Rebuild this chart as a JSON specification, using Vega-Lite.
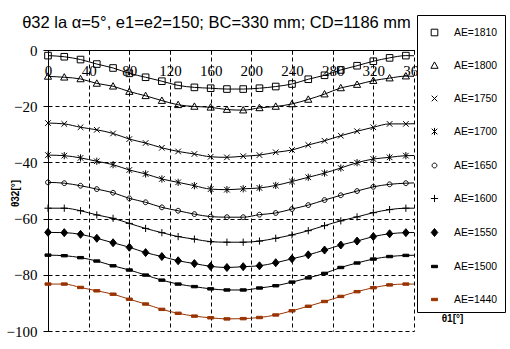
{
"$schema": "https://vega.github.io/schema/vega-lite/v6.json",
"width": 366, "height": 281,
"autosize": "none",
"padding": {"left": 48, "top": 50, "right": 96, "bottom": 18},
"background": "white",
"config": {"view": {"stroke": null}, "font": "Liberation Sans"},
"title": {"text": "θ32 la α=5°, e1=e2=150; BC=330 mm; CD=1186 mm", "fontSize": 16.5, "fontWeight": "normal", "font": "Liberation Sans", "color": "black", "anchor": "middle", "frame": "group", "dx": -14.5, "dy": 21},
"data": {"values": [
{"s":"AE=1810","x":0,"y":-2.0},{"s":"AE=1810","x":16,"y":-2.4},{"s":"AE=1810","x":32,"y":-3.4},{"s":"AE=1810","x":48,"y":-5.0},{"s":"AE=1810","x":64,"y":-6.4},{"s":"AE=1810","x":80,"y":-8.3},{"s":"AE=1810","x":96,"y":-9.7},{"s":"AE=1810","x":112,"y":-11.1},{"s":"AE=1810","x":128,"y":-12.6},{"s":"AE=1810","x":144,"y":-13.3},{"s":"AE=1810","x":160,"y":-13.6},{"s":"AE=1810","x":176,"y":-13.9},{"s":"AE=1810","x":192,"y":-13.9},{"s":"AE=1810","x":208,"y":-13.6},{"s":"AE=1810","x":224,"y":-13.0},{"s":"AE=1810","x":240,"y":-12.1},{"s":"AE=1810","x":256,"y":-10.4},{"s":"AE=1810","x":272,"y":-9.0},{"s":"AE=1810","x":288,"y":-7.1},{"s":"AE=1810","x":304,"y":-5.6},{"s":"AE=1810","x":320,"y":-4.0},{"s":"AE=1810","x":336,"y":-2.8},{"s":"AE=1810","x":352,"y":-2.0},{"s":"AE=1810","x":368,"y":-2.1},
{"s":"AE=1800","x":0,"y":-9.4},{"s":"AE=1800","x":16,"y":-9.7},{"s":"AE=1800","x":32,"y":-10.3},{"s":"AE=1800","x":48,"y":-11.9},{"s":"AE=1800","x":64,"y":-12.9},{"s":"AE=1800","x":80,"y":-14.8},{"s":"AE=1800","x":96,"y":-16.3},{"s":"AE=1800","x":112,"y":-18.0},{"s":"AE=1800","x":128,"y":-19.5},{"s":"AE=1800","x":144,"y":-20.1},{"s":"AE=1800","x":160,"y":-20.4},{"s":"AE=1800","x":176,"y":-21.2},{"s":"AE=1800","x":192,"y":-21.4},{"s":"AE=1800","x":208,"y":-20.6},{"s":"AE=1800","x":224,"y":-20.1},{"s":"AE=1800","x":240,"y":-19.2},{"s":"AE=1800","x":256,"y":-17.6},{"s":"AE=1800","x":272,"y":-15.7},{"s":"AE=1800","x":288,"y":-13.5},{"s":"AE=1800","x":304,"y":-12.3},{"s":"AE=1800","x":320,"y":-10.9},{"s":"AE=1800","x":336,"y":-10.0},{"s":"AE=1800","x":352,"y":-9.3},{"s":"AE=1800","x":368,"y":-9.5},
{"s":"AE=1750","x":0,"y":-26.0},{"s":"AE=1750","x":16,"y":-26.3},{"s":"AE=1750","x":32,"y":-27.5},{"s":"AE=1750","x":48,"y":-28.4},{"s":"AE=1750","x":64,"y":-29.7},{"s":"AE=1750","x":80,"y":-31.7},{"s":"AE=1750","x":96,"y":-33.1},{"s":"AE=1750","x":112,"y":-34.8},{"s":"AE=1750","x":128,"y":-36.1},{"s":"AE=1750","x":144,"y":-37.0},{"s":"AE=1750","x":160,"y":-38.0},{"s":"AE=1750","x":176,"y":-38.2},{"s":"AE=1750","x":192,"y":-37.8},{"s":"AE=1750","x":208,"y":-37.4},{"s":"AE=1750","x":224,"y":-36.4},{"s":"AE=1750","x":240,"y":-35.6},{"s":"AE=1750","x":256,"y":-33.8},{"s":"AE=1750","x":272,"y":-32.3},{"s":"AE=1750","x":288,"y":-30.5},{"s":"AE=1750","x":304,"y":-28.9},{"s":"AE=1750","x":320,"y":-27.5},{"s":"AE=1750","x":336,"y":-26.3},{"s":"AE=1750","x":352,"y":-26.3},{"s":"AE=1750","x":368,"y":-26.1},
{"s":"AE=1700","x":0,"y":-37.4},{"s":"AE=1700","x":16,"y":-37.6},{"s":"AE=1700","x":32,"y":-38.4},{"s":"AE=1700","x":48,"y":-39.6},{"s":"AE=1700","x":64,"y":-40.8},{"s":"AE=1700","x":80,"y":-42.7},{"s":"AE=1700","x":96,"y":-44.1},{"s":"AE=1700","x":112,"y":-45.9},{"s":"AE=1700","x":128,"y":-47.1},{"s":"AE=1700","x":144,"y":-48.3},{"s":"AE=1700","x":160,"y":-49.5},{"s":"AE=1700","x":176,"y":-49.7},{"s":"AE=1700","x":192,"y":-49.4},{"s":"AE=1700","x":208,"y":-49.1},{"s":"AE=1700","x":224,"y":-48.2},{"s":"AE=1700","x":240,"y":-46.8},{"s":"AE=1700","x":256,"y":-45.3},{"s":"AE=1700","x":272,"y":-43.8},{"s":"AE=1700","x":288,"y":-42.0},{"s":"AE=1700","x":304,"y":-40.1},{"s":"AE=1700","x":320,"y":-38.8},{"s":"AE=1700","x":336,"y":-38.2},{"s":"AE=1700","x":352,"y":-37.6},{"s":"AE=1700","x":368,"y":-37.5},
{"s":"AE=1650","x":0,"y":-47.1},{"s":"AE=1650","x":16,"y":-47.4},{"s":"AE=1650","x":32,"y":-48.3},{"s":"AE=1650","x":48,"y":-49.5},{"s":"AE=1650","x":64,"y":-50.8},{"s":"AE=1650","x":80,"y":-52.8},{"s":"AE=1650","x":96,"y":-54.2},{"s":"AE=1650","x":112,"y":-56.0},{"s":"AE=1650","x":128,"y":-57.2},{"s":"AE=1650","x":144,"y":-58.4},{"s":"AE=1650","x":160,"y":-59.3},{"s":"AE=1650","x":176,"y":-59.5},{"s":"AE=1650","x":192,"y":-59.5},{"s":"AE=1650","x":208,"y":-58.6},{"s":"AE=1650","x":224,"y":-58.0},{"s":"AE=1650","x":240,"y":-56.6},{"s":"AE=1650","x":256,"y":-55.2},{"s":"AE=1650","x":272,"y":-53.4},{"s":"AE=1650","x":288,"y":-51.7},{"s":"AE=1650","x":304,"y":-50.2},{"s":"AE=1650","x":320,"y":-48.7},{"s":"AE=1650","x":336,"y":-47.8},{"s":"AE=1650","x":352,"y":-47.4},{"s":"AE=1650","x":368,"y":-47.2},
{"s":"AE=1600","x":0,"y":-56.3},{"s":"AE=1600","x":16,"y":-56.3},{"s":"AE=1600","x":32,"y":-57.2},{"s":"AE=1600","x":48,"y":-58.7},{"s":"AE=1600","x":64,"y":-59.9},{"s":"AE=1600","x":80,"y":-61.7},{"s":"AE=1600","x":96,"y":-63.5},{"s":"AE=1600","x":112,"y":-65.0},{"s":"AE=1600","x":128,"y":-66.4},{"s":"AE=1600","x":144,"y":-67.3},{"s":"AE=1600","x":160,"y":-68.2},{"s":"AE=1600","x":176,"y":-68.4},{"s":"AE=1600","x":192,"y":-68.4},{"s":"AE=1600","x":208,"y":-68.0},{"s":"AE=1600","x":224,"y":-67.0},{"s":"AE=1600","x":240,"y":-65.8},{"s":"AE=1600","x":256,"y":-64.3},{"s":"AE=1600","x":272,"y":-62.5},{"s":"AE=1600","x":288,"y":-60.8},{"s":"AE=1600","x":304,"y":-59.4},{"s":"AE=1600","x":320,"y":-57.9},{"s":"AE=1600","x":336,"y":-56.8},{"s":"AE=1600","x":352,"y":-56.3},{"s":"AE=1600","x":368,"y":-56.3},
{"s":"AE=1550","x":0,"y":-64.9},{"s":"AE=1550","x":16,"y":-65.0},{"s":"AE=1550","x":32,"y":-65.6},{"s":"AE=1550","x":48,"y":-67.0},{"s":"AE=1550","x":64,"y":-68.6},{"s":"AE=1550","x":80,"y":-70.2},{"s":"AE=1550","x":96,"y":-72.1},{"s":"AE=1550","x":112,"y":-73.5},{"s":"AE=1550","x":128,"y":-75.0},{"s":"AE=1550","x":144,"y":-76.0},{"s":"AE=1550","x":160,"y":-77.0},{"s":"AE=1550","x":176,"y":-77.4},{"s":"AE=1550","x":192,"y":-77.1},{"s":"AE=1550","x":208,"y":-76.8},{"s":"AE=1550","x":224,"y":-75.7},{"s":"AE=1550","x":240,"y":-74.3},{"s":"AE=1550","x":256,"y":-72.9},{"s":"AE=1550","x":272,"y":-71.2},{"s":"AE=1550","x":288,"y":-69.4},{"s":"AE=1550","x":304,"y":-68.0},{"s":"AE=1550","x":320,"y":-66.4},{"s":"AE=1550","x":336,"y":-65.4},{"s":"AE=1550","x":352,"y":-65.0},{"s":"AE=1550","x":368,"y":-64.9},
{"s":"AE=1500","x":0,"y":-73.0},{"s":"AE=1500","x":16,"y":-73.2},{"s":"AE=1500","x":32,"y":-73.9},{"s":"AE=1500","x":48,"y":-75.1},{"s":"AE=1500","x":64,"y":-76.8},{"s":"AE=1500","x":80,"y":-78.3},{"s":"AE=1500","x":96,"y":-80.1},{"s":"AE=1500","x":112,"y":-81.9},{"s":"AE=1500","x":128,"y":-83.3},{"s":"AE=1500","x":144,"y":-84.2},{"s":"AE=1500","x":160,"y":-85.0},{"s":"AE=1500","x":176,"y":-85.4},{"s":"AE=1500","x":192,"y":-85.4},{"s":"AE=1500","x":208,"y":-84.7},{"s":"AE=1500","x":224,"y":-83.9},{"s":"AE=1500","x":240,"y":-82.6},{"s":"AE=1500","x":256,"y":-81.1},{"s":"AE=1500","x":272,"y":-79.5},{"s":"AE=1500","x":288,"y":-77.4},{"s":"AE=1500","x":304,"y":-75.8},{"s":"AE=1500","x":320,"y":-74.4},{"s":"AE=1500","x":336,"y":-73.5},{"s":"AE=1500","x":352,"y":-73.1},{"s":"AE=1500","x":368,"y":-73.0},
{"s":"AE=1440","x":0,"y":-83.3},{"s":"AE=1440","x":16,"y":-83.3},{"s":"AE=1440","x":32,"y":-84.5},{"s":"AE=1440","x":48,"y":-85.7},{"s":"AE=1440","x":64,"y":-86.9},{"s":"AE=1440","x":80,"y":-88.7},{"s":"AE=1440","x":96,"y":-90.4},{"s":"AE=1440","x":112,"y":-92.3},{"s":"AE=1440","x":128,"y":-93.7},{"s":"AE=1440","x":144,"y":-94.7},{"s":"AE=1440","x":160,"y":-95.3},{"s":"AE=1440","x":176,"y":-95.7},{"s":"AE=1440","x":192,"y":-95.6},{"s":"AE=1440","x":208,"y":-95.2},{"s":"AE=1440","x":224,"y":-94.3},{"s":"AE=1440","x":240,"y":-92.8},{"s":"AE=1440","x":256,"y":-91.2},{"s":"AE=1440","x":272,"y":-89.5},{"s":"AE=1440","x":288,"y":-87.7},{"s":"AE=1440","x":304,"y":-86.0},{"s":"AE=1440","x":320,"y":-84.6},{"s":"AE=1440","x":336,"y":-83.6},{"s":"AE=1440","x":352,"y":-83.3},{"s":"AE=1440","x":368,"y":-83.3}
]},
"encoding": {
  "x": {"field": "x", "type": "quantitative", "scale": {"domain": [0, 360], "nice": false, "zero": false},
    "axis": {"orient": "bottom", "offset": -281, "values": [0,40,80,120,160,200,240,280,320,360], "grid": true, "gridDash": [4,3], "gridColor": "black", "gridOpacity": 1, "gridWidth": 1, "domainColor": "black", "domainWidth": 1, "tickColor": "black", "tickSize": 4, "tickWidth": 1, "labelFont": "Liberation Sans Narrow", "labelFontSize": 15, "labelColor": "black", "labelBaseline": "alphabetic", "labelPadding": 21, "labelFlush": false, "labelOverlap": false, "title": "θ1[°]", "titleFont": "Liberation Sans", "titleFontWeight": "bold", "titleFontSize": 10, "titleColor": "black", "titleX": 404, "titleY": 271, "titleBaseline": "alphabetic", "titleAlign": "center"}},
  "y": {"field": "y", "type": "quantitative", "scale": {"domain": [-100, 0], "nice": false, "zero": false},
    "axis": {"orient": "left", "values": [-100,-80,-60,-40,-20,0], "grid": true, "gridDash": [4,3], "gridColor": "black", "gridOpacity": 1, "gridWidth": 1, "domainColor": "black", "domainWidth": 1, "tickColor": "black", "tickSize": 5, "tickWidth": 1, "labelFont": "Liberation Sans Narrow", "labelFontSize": 15, "labelColor": "black", "labelPadding": 6, "labelFlush": false, "labelOverlap": false, "title": "θ32[°]", "titleFont": "Liberation Sans", "titleFontWeight": "bold", "titleFontSize": 10, "titleColor": "black", "titleX": -30, "titleY": 143, "titleAngle": -90, "titleBaseline": "alphabetic", "titleAlign": "center"}}
},
"layer": [
  {"mark": {"type": "line", "strokeWidth": 1, "interpolate": "monotone", "clip": true},
   "encoding": {"color": {"field": "s", "type": "nominal", "scale": {"range": ["#993300","black","black","black","black","black","black","black","black"]}, "legend": null}}},
  {"transform": [{"filter": "datum.x <= 360"}],
   "mark": {"type": "point", "size": 400, "strokeWidth": 1, "opacity": 1},
   "encoding": {
     "shape": {"field": "s", "type": "nominal", "scale": {"domain": ["AE=1810","AE=1800","AE=1750","AE=1700","AE=1650","AE=1600","AE=1550","AE=1500","AE=1440"], "range": [
        "M-0.33,-0.33H0.33V0.33H-0.33Z",
        "M0,-0.36L0.36,0.28H-0.36Z",
        "M-0.28,-0.28L0.28,0.28M-0.28,0.28L0.28,-0.28",
        "M-0.28,-0.28L0.28,0.28M-0.28,0.28L0.28,-0.28M0,-0.36V0.36",
        "M0.24,0A0.24,0.24 0 1,1 -0.24,0A0.24,0.24 0 1,1 0.24,0Z",
        "M-0.36,0H0.36M0,-0.36V0.36",
        "M0,-0.4L0.33,0L0,0.4L-0.33,0Z",
        "M-0.3,-0.12H0.3V0.12H-0.3Z",
        "M-0.3,-0.12H0.3V0.12H-0.3Z"]},
      "legend": {"title": null, "orient": "none", "legendX": 369, "legendY": -35, "padding": 7, "strokeColor": "black", "fillColor": "white", "cornerRadius": 0, "symbolSize": 400, "symbolStrokeWidth": 1, "labelOffset": 9, "rowPadding": 17, "labelFont": "Liberation Sans", "labelFontSize": 10.4, "labelColor": "black", "labelLimit": 200}},
     "stroke": {"field": "s", "type": "nominal", "scale": {"domain": ["AE=1810","AE=1800","AE=1750","AE=1700","AE=1650","AE=1600","AE=1550","AE=1500","AE=1440"], "range": ["black","black","black","black","black","black","black","black","#993300"]}, "legend": null},
     "fill": {"field": "s", "type": "nominal", "scale": {"domain": ["AE=1810","AE=1800","AE=1750","AE=1700","AE=1650","AE=1600","AE=1550","AE=1500","AE=1440"], "range": ["transparent","transparent","transparent","transparent","transparent","transparent","black","black","#993300"]}, "legend": null}
   }}
]
}
